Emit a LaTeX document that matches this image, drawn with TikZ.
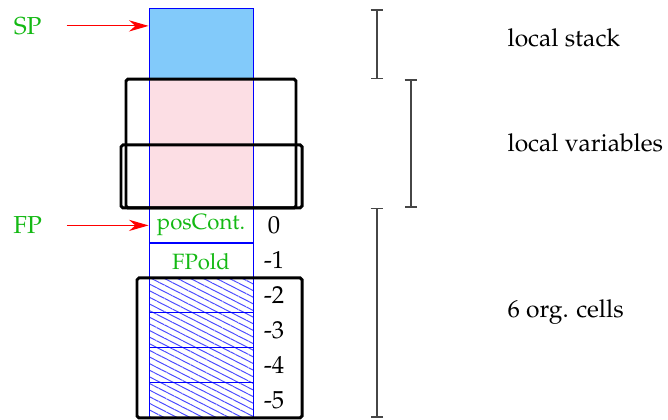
\documentclass[tikz,border=0pt]{standalone}
\usepackage[T1]{fontenc}
\usepackage{mathpazo}
\usetikzlibrary{arrows.meta,patterns.meta,positioning}

\definecolor{stackblue}{RGB}{130,202,250}
\definecolor{varpink}{RGB}{252,222,228}
\definecolor{labgreen}{RGB}{20,185,20}
\definecolor{bargray}{RGB}{70,70,70}

\tikzset{
  cell/.style={draw=blue,line width=.4pt,minimum width=14.85mm,minimum height=5mm,
    inner sep=0pt,text=labgreen,font=\small},
  org/.style={cell,pattern={Lines[angle=-27,distance=2.4pt,line width=.4pt]},
    pattern color=blue!70},
  frame/.style={line width=1.2pt,rounded corners=.8pt},
  bracket/.style={bargray,line width=.6pt,{Bar[width=1.8mm]}-{Bar[width=1.8mm]}},
  ptr/.style={red,line width=.45pt,->},
  reg/.style={text=labgreen,inner sep=0pt}
}

\begin{document}
\begin{tikzpicture}[>={Stealth[length=2.8mm,width=1.6mm]},x=5mm,y=5mm]
\useasboundingbox (0,-.06) rectangle (19.086,11.94);

% stack column
\node[cell,fill=stackblue,minimum height=10mm,anchor=south] (stk) at (5.745,9.68) {};
\node[cell,fill=varpink,minimum height=18.4mm,anchor=south] (vars) at (5.745,6) {};
\node[cell] (pos) at (5.745,5.5) {posCont.};
\node[cell,below=0pt of pos] (fpold) {FPold};
\foreach \k in {2,...,5}
  \node[org] (c\k) at (5.745,5.5-\k) {};

% cell offsets
\foreach \k/\t in {0/0,1/-1,2/-2,3/-3,4/-4,5/-5}
  \node (n\k) at (7.83,5.5-\k) {\t};

% frames round the variables and org. cells
\draw[frame] (3.6,6) rectangle (8.457,9.68);
\draw[frame] (3.457,6) rectangle (8.63,7.8);
\draw[frame] (3.914,0) rectangle (8.63,4);

% registers
\node[reg] (sp) at (.79,11.2) {SP};
\node[reg] (fp) at (.79,5.5) {FP};
\draw[ptr] ([xshift=3.5mm]sp.east) -- (sp -| stk.west);
\draw[ptr] ([xshift=3.5mm]fp.east) -- (fp -| pos.west);

% extents
\draw[bracket] (10.77,11.68) -- (10.77,9.68);
\draw[bracket] (11.74,9.68) -- (11.74,6);
\draw[bracket] (10.77,6) -- (10.77,0);
\node[anchor=west,inner sep=0pt] (lstack) at (14.49,10.85) {local stack};
\node[anchor=west,inner sep=0pt] (lvars) at (14.49,7.85) {local variables};
\node[anchor=west,inner sep=0pt] (lorg) at (14.49,3.03) {6 org. cells};
\end{tikzpicture}
\end{document}
